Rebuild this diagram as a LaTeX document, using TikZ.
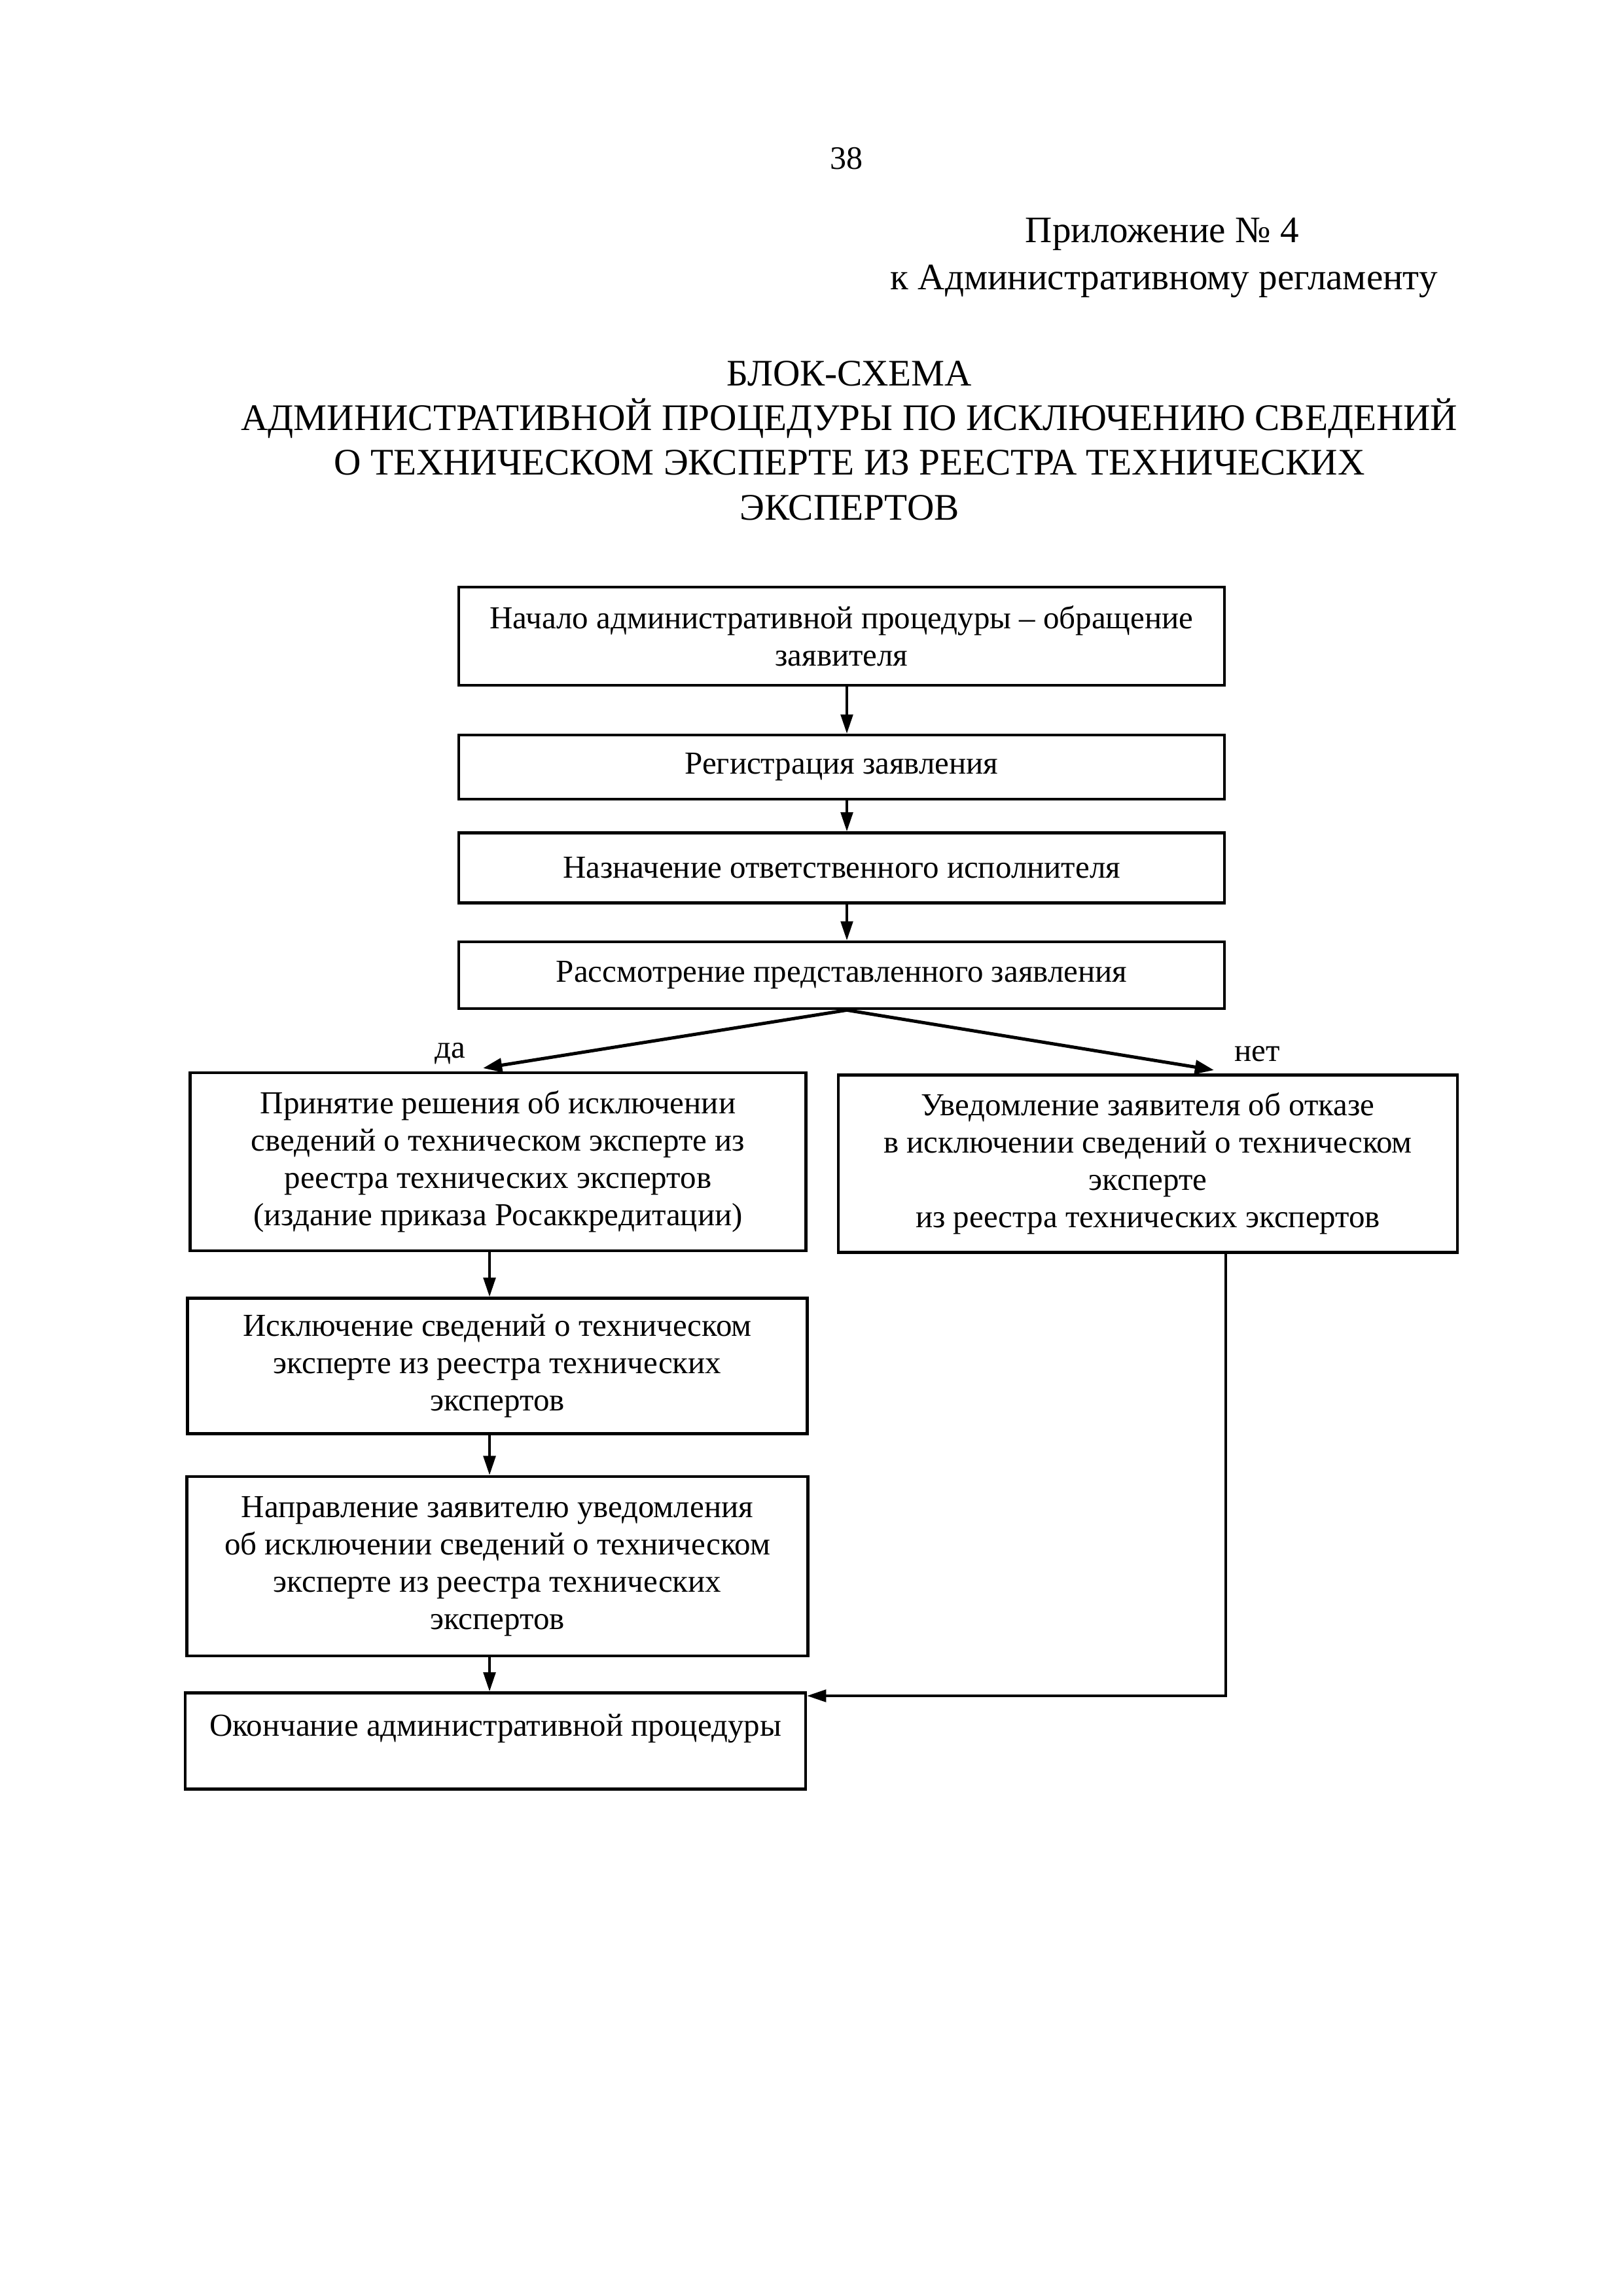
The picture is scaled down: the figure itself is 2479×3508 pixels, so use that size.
\documentclass[tikz,border=0pt]{standalone}
\usepackage{fontspec}
\setmainfont{Liberation Serif}
\usetikzlibrary{arrows.meta}
\begin{document}
\begin{tikzpicture}[x=0.24pt,y=-0.24pt,
  box/.style={draw, line width=1.1pt, inner sep=0pt, align=center, font=\fontsize{11.75}{13.7}\selectfont},
  lbl/.style={inner sep=0pt, font=\fontsize{11.75}{13.7}\selectfont},
  arr/.style={-{Triangle[length=7pt,width=4.5pt]}, line width=0.8pt},
  diag/.style={-{Triangle[length=7pt,width=5pt]}, line width=1.2pt}]
\useasboundingbox (0,0) rectangle (2479,3508);

% header
\node[inner sep=0pt, font=\fontsize{12}{14}\selectfont] (pg) at (1293,242) {38};
\node[inner sep=0pt, anchor=west, font=\fontsize{13.7}{17}\selectfont] (app1) at (1566,358) {Приложение № 4};
\node[inner sep=0pt, anchor=west, font=\fontsize{13.7}{17}\selectfont] (app2) at (1360,430) {к Административному регламенту};
\node[inner sep=0pt, align=center, font=\fontsize{13.75}{16.4}\selectfont] (title) at (1298,673) {БЛОК-СХЕМА\\АДМИНИСТРАТИВНОЙ ПРОЦЕДУРЫ ПО ИСКЛЮЧЕНИЮ СВЕДЕНИЙ\\О ТЕХНИЧЕСКОМ ЭКСПЕРТЕ ИЗ РЕЕСТРА ТЕХНИЧЕСКИХ\\ЭКСПЕРТОВ};

% boxes
\node[box, minimum width=280.8pt, minimum height=36pt] (b1) at (1286,972) {Начало административной процедуры – обращение\\заявителя};
\node[box, minimum width=280.8pt, minimum height=23.5pt] (b2) at (1286,1172) {Регистрация заявления};
\node[box, minimum width=280.8pt, minimum height=25.7pt] (b3) at (1286,1326) {Назначение ответственного исполнителя};
\node[box, minimum width=280.8pt, minimum height=24.5pt] (b4) at (1286,1490) {Рассмотрение представленного заявления};
\node[box, minimum width=225.8pt, minimum height=65.3pt] (b5) at (761,1775) {Принятие решения об исключении\\сведений о техническом эксперте из\\реестра технических экспертов\\(издание приказа Росаккредитации)};
\node[box, minimum width=227pt, minimum height=65pt] (b6) at (1754,1778) {Уведомление заявителя об отказе\\в исключении сведений о техническом\\эксперте\\из реестра технических экспертов};
\node[box, minimum width=227.3pt, minimum height=49.7pt] (b7) at (760,2087) {Исключение сведений о техническом\\эксперте из реестра технических\\экспертов};
\node[box, minimum width=227.8pt, minimum height=65.8pt] (b8) at (760,2393) {Направление заявителю уведомления\\об исключении сведений о техническом\\эксперте из реестра технических\\экспертов};
\node[box, minimum width=227.5pt, minimum height=35.3pt, text height=8pt, text depth=11.6pt] (b9) at (757,2660) {Окончание административной процедуры};

% labels
\node[lbl] (da) at (688,1610) {да};
\node[lbl] (net) at (1921,1610) {нет};

% coordinates
\coordinate (mx) at (1294,0);
\coordinate (lx) at (748,0);
\coordinate (datip) at (738,1632);
\coordinate (nettip) at (1855,1635);
\coordinate (rx) at (1873,0);
\coordinate (corner) at (1873,2591);

% connectors
\draw[arr] (b1.south -| mx) -- (b2.north -| mx);
\draw[arr] (b2.south -| mx) -- (b3.north -| mx);
\draw[arr] (b3.south -| mx) -- (b4.north -| mx);
\draw[diag] (b4.south -| mx) -- (datip);
\draw[diag] (b4.south -| mx) -- (nettip);
\draw[arr] (b5.south -| lx) -- (b7.north -| lx);
\draw[arr] (b7.south -| lx) -- (b8.north -| lx);
\draw[arr] (b8.south -| lx) -- (b9.north -| lx);
\draw[arr] (b6.south -| rx) -- (corner) -- (corner -| b9.east);
\end{tikzpicture}
\end{document}
